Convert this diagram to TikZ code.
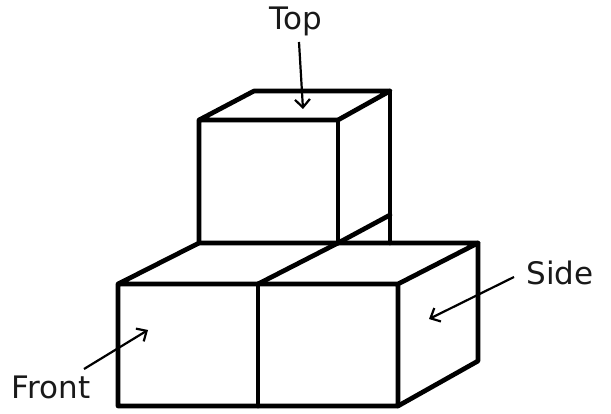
\documentclass[tikz,border=0pt]{standalone}
\usepackage{fontspec}
\setmainfont{DejaVu Sans}
\usetikzlibrary{arrows.meta}
\tikzset{
  edgeline/.style={line width=4.7pt,line join=round,line cap=round,black},
  pointer/.style={line width=2.2pt,black,-{Straight Barb[length=8pt,width=15pt,line width=2.2pt]}},
  lbl/.style={font=\fontsize{31pt}{34pt}\selectfont,text=black!90,inner sep=0pt,anchor=base}
}
\begin{document}
\begin{tikzpicture}[x=1pt,y=-1pt]
\useasboundingbox (0,0) rectangle (611,414);
% upper cube
\coordinate (uf1) at (199,120);
\coordinate (uf2) at (338,120);
\coordinate (ub1) at (254,91);
\coordinate (ub2) at (390,91);
\coordinate (uf3) at (338,243);
\coordinate (uf4) at (199,243);
\coordinate (ub3) at (390,243);
\coordinate (um) at (390,215);
% lower block
\coordinate (lf1) at (118,284);
\coordinate (lf2) at (258,284);
\coordinate (lf3) at (398,284);
\coordinate (lb2) at (338,243);
\coordinate (lb3) at (478,243);
\coordinate (lf4) at (398,406);
\coordinate (lf5) at (258,406);
\coordinate (lf6) at (118,406);
\coordinate (lb4) at (478,361);
\draw[edgeline] (uf1) -- (ub1) -- (ub2) -- (uf2) -- (uf1) -- (uf4);
\draw[edgeline] (uf2) -- (uf3);
\draw[edgeline] (ub2) -- (ub3);
\draw[edgeline] (uf3) -- (um);
\draw[edgeline] (lf1) -- (uf4) -- (lb3) -- (lf3) -- (lf1) -- (lf6) -- (lf4) -- (lf3);
\draw[edgeline] (lf2) -- (lf5);
\draw[edgeline] (lf2) -- (lb2);
\draw[edgeline] (lb3) -- (lb4) -- (lf4);
% labels
\node[lbl] (top) at (296,30) {Top};
\node[lbl] (front) at (51,398) {Front};
\node[lbl] (side) at (560,285) {Side};
\coordinate (topS) at (299,42);
\coordinate (topE) at (303,109);
\coordinate (frontS) at (84,369);
\coordinate (frontE) at (148,330);
\coordinate (sideS) at (514,277);
\coordinate (sideE) at (429,319);
\draw[pointer] (topS) -- (topE);
\draw[pointer] (frontS) -- (frontE);
\draw[pointer] (sideS) -- (sideE);
\end{tikzpicture}
\end{document}
